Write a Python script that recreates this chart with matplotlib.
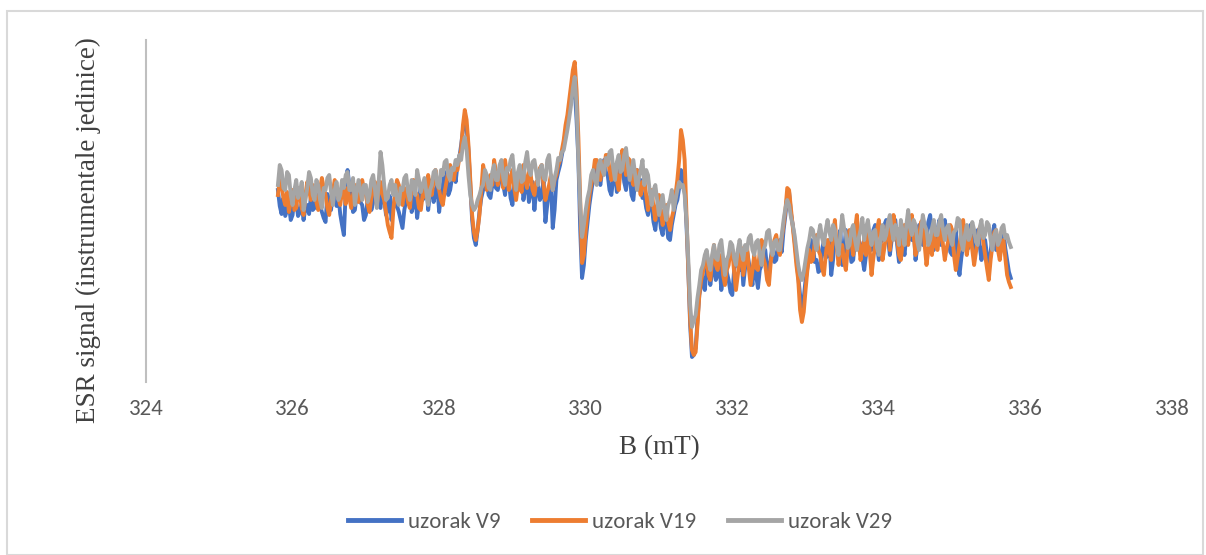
import numpy as np
import matplotlib
matplotlib.use("Agg")
import matplotlib.pyplot as plt
from matplotlib.patches import Rectangle

# ESR signal, arbitrary instrumental units (0.025 mT step)
v9 = [10, -6, -14, 2, -16, -10, -4, -20, -15, 4, -2, -16, -12, -4, -20, -8, -5, -14, 3, -10,
      -8, 4, 8, -5, -12, -18, -22, 6, -3, -10, 10, 2, -6, 5, -14, -25, -35, 8, 30, 15,
      5, -12, -10, 6, 12, -2, -5, -20, -15, 0, 8, -10, -2, 10, 15, -4, -8, 12, 2, -15,
      -10, 4, -20, -8, 5, -6, -12, -20, -28, -10, 0, 12, 10, -12, -5, 6, -18, -2, 15, 0,
      5, 18, -10, 6, 20, -2, 8, 15, -12, 5, 15, 28, 25, 5, 10, 22, 30, 18, 35, 42,
      55, 70, 82, 72, 50, 15, -20, -38, -45, -30, -12, 2, 10, 25, 18, 5, 2, 15, 25, 12,
      10, 20, 30, 15, 5, 28, 20, 2, -5, 15, 25, 10, 12, 30, 0, 12, 22, -2, 8, 18,
      -10, 10, 15, 0, 5, 20, -22, -5, 10, 18, -28, -10, 20, 28, 35, 45, 55, 68, 80, 92,
      100, 108, 112, 80, 40, -30, -78, -65, -40, -22, -5, 8, 20, 30, 35, 22, 15, 30, 40, 28,
      25, 10, 5, 22, 30, 8, 15, 35, 40, 18, 10, 30, 25, 5, 0, 20, 30, 12, 20, 2,
      5, -8, -15, 2, -5, -22, -30, -12, -10, -28, -35, -15, -20, -38, -40, -25, -15, -5, 0, 12,
      30, 25, 12, -25, -70, -125, -157, -155, -148, -120, -95, -85, -78, -90, -70, -65, -85, -72, -62, -80,
      -75, -62, -90, -78, -60, -72, -80, -92, -95, -70, -55, -65, -70, -55, -85, -68, -50, -62, -72, -85,
      -60, -75, -88, -70, -65, -48, -50, -68, -75, -58, -45, -62, -60, -45, -40, -52, -30, -15, 5, 8,
      -13, -25, -40, -58, -75, -95, -107, -98, -80, -68, -55, -40, -45, -62, -60, -72, -70, -50, -40, -58,
      -55, -40, -75, -60, -35, -48, -50, -30, -65, -52, -30, -42, -45, -62, -60, -38, -25, -40, -45, -58,
      -70, -55, -35, -48, -50, -30, -25, -45, -60, -42, -40, -25, -20, -38, -55, -40, -30, -20, -45, -62,
      -30, -42, -55, -35, -20, -32, -40, -25, -60, -48, -25, -38, -45, -30, -35, -22, -15, -35, -50, -38,
      -30, -20, -45, -32, -20, -35, -40, -52, -55, -40, -30, -60, -75, -58, -45, -30, -35, -48, -25, -40,
      -50, -38, -30, -45, -60, -48, -40, -55, -70, -52, -35, -25, -50, -40, -45, -32, -30, -48, -60, -72,
      -78]

v19 = [5, 20, 15, 2, -5, 8, -12, -2, 10, -10, -8, 12, 5, -8, -15, 5, 18, 10, 0, 15,
       12, -2, -10, 10, 22, 12, 5, -8, -15, 0, 8, 20, 15, 2, -5, 8, 10, -4, 12, 2,
       -8, 5, 15, 0, -2, 12, 20, 10, 5, -5, -12, 2, 10, 18, -5, 8, 18, 6, 0, -12,
       -25, -32, -38, -10, 8, 20, 15, 0, -5, 12, 10, -2, -8, 10, 20, 8, 5, -8, -10, 5,
       15, 2, 25, 12, 5, 20, 30, 15, 10, 0, -5, 8, 18, 28, 35, 22, 20, 32, 30, 42,
       50, 75, 90, 80, 55, 20, -15, -32, -40, -30, -15, 10, 35, 25, 10, 20, 25, 15, 40, 28,
       15, 30, 28, 12, 40, 25, 10, 22, 30, 12, 0, 15, 20, 8, 35, 20, 12, 28, 25, 10,
       5, 18, 20, 32, 35, 15, 0, 8, 15, 25, 10, 20, 25, 35, 40, 50, 60, 75, 85, 100,
       115, 130, 138, 110, 62, 0, -63, -55, -30, -12, 5, 15, 25, 40, 40, 28, 20, 38, 30, 45,
       45, 30, 20, 35, 35, 20, 10, 30, 50, 38, 25, 42, 40, 22, 15, 30, 30, 15, 5, 18,
       20, 5, -10, 2, 10, -8, -20, -5, 5, -12, -25, -10, -5, -22, -30, -18, -10, 5, 20, 40,
       70, 60, 40, -15, -70, -120, -150, -155, -152, -125, -95, -80, -72, -58, -60, -75, -80, -60, -45, -65,
       -70, -58, -55, -75, -85, -70, -65, -50, -50, -72, -90, -75, -60, -48, -75, -60, -45, -68, -85, -70,
       -55, -68, -70, -52, -40, -58, -65, -80, -85, -62, -50, -40, -35, -50, -55, -38, -25, -10, 12, 10,
       -8, -25, -45, -65, -80, -110, -122, -112, -90, -70, -50, -62, -60, -42, -35, -50, -55, -68, -75, -55,
       -40, -52, -60, -35, -20, -45, -65, -50, -45, -62, -70, -48, -30, -42, -55, -30, -15, -40, -60, -48,
       -40, -55, -25, -50, -75, -58, -45, -30, -20, -42, -60, -48, -35, -22, -50, -32, -15, -28, -40, -55,
       -60, -42, -25, -38, -45, -28, -15, -35, -55, -40, -35, -22, -20, -45, -65, -50, -40, -55, -30, -45,
       -50, -35, -25, -45, -60, -48, -40, -25, -30, -55, -70, -58, -45, -32, -20, -40, -55, -42, -35, -50,
       -65, -52, -40, -28, -25, -42, -55, -68, -80, -60, -45, -32, -30, -50, -60, -45, -40, -58, -75, -82,
       -87]

v29 = [15, 35, 30, 12, 10, 28, 25, 5, -5, 10, 20, 2, 8, 18, -10, 0, 12, 28, 22, 5,
       0, 20, 15, 0, -8, 12, 10, 22, 25, 8, -5, 10, 18, 0, 5, 20, 12, 25, 28, 10,
       10, 22, -5, 8, 20, 10, 0, 15, 15, -2, 5, 20, 25, 10, -8, 18, 48, 35, 15, 0,
       2, 15, 20, 5, 15, 0, -5, 12, 10, 22, 25, 8, 0, 20, 18, 5, 30, 20, 8, 15,
       22, 8, -5, 10, 15, 28, 30, 15, 12, 30, 25, 38, 40, 25, 20, 32, 30, 40, 35, 45,
       40, 55, 63, 50, 25, 5, -5, -10, -7, 0, 5, 12, 15, 30, 25, 12, 10, 28, 35, 20,
       20, 35, 40, 22, 15, 32, 30, 40, 45, 25, 10, 28, 35, 18, 20, 38, 48, 30, 25, 38,
       40, 28, 15, 30, 35, 22, 20, 40, 45, 25, 10, 22, 30, 42, 40, 48, 50, 60, 70, 82,
       95, 112, 123, 95, 40, -5, -37, -25, -10, 2, 10, 25, 30, 20, 15, 35, 40, 30, 25, 42,
       35, 48, 50, 32, 20, 38, 45, 28, 30, 45, 52, 35, 20, 30, 40, 25, 10, 22, 30, 40,
       15, 30, 25, 8, -5, 10, 15, 0, -15, -5, 5, -10, -20, -5, 0, 10, -10, 0, 10, 18,
       13, 15, 5, -20, -60, -105, -127, -120, -115, -98, -85, -70, -65, -55, -50, -62, -70, -55, -45, -58,
       -60, -45, -40, -58, -75, -60, -55, -42, -45, -58, -65, -50, -40, -52, -60, -45, -50, -38, -35, -50,
       -55, -42, -40, -55, -65, -50, -45, -32, -30, -45, -55, -42, -40, -50, -50, -35, -20, -8, 0, -5,
       -17, -25, -35, -50, -65, -75, -80, -72, -60, -48, -40, -28, -30, -42, -50, -35, -25, -38, -45, -30,
       -20, -32, -40, -25, -30, -45, -55, -35, -15, -28, -35, -48, -45, -30, -25, -40, -50, -38, -30, -18,
       -40, -28, -20, -35, -45, -32, -30, -48, -55, -38, -25, -40, -35, -22, -15, -30, -40, -25, -30, -45,
       -20, -32, -45, -25, -10, -28, -35, -20, -25, -42, -50, -32, -15, -25, -30, -45, -40, -28, -20, -35,
       -35, -22, -15, -30, -40, -28, -25, -38, -45, -32, -30, -18, -20, -42, -50, -35, -25, -40, -35, -22,
       -30, -42, -45, -28, -20, -38, -35, -22, -25, -40, -50, -35, -30, -45, -40, -28, -25, -38, -35, -42,
       -47]

# magnetic field scan (mT)
b_start, b_step = 325.80, 0.025
field = b_start + b_step * np.arange(len(v9))

labels = ['uzorak V9', 'uzorak V19', 'uzorak V29']
colors = ['#4472C4', '#ED7D31', '#A5A5A5']
xticks = [324, 326, 328, 330, 332, 334, 336, 338]

sans = ['Carlito', 'DejaVu Sans']
serif = ['Liberation Serif', 'DejaVu Serif']

fig = plt.figure(figsize=(12.06, 5.55), dpi=100)
ax = fig.add_axes([146 / 1206, 1 - 382 / 555, (1172 - 146) / 1206, (382 - 40) / 555])

for vals, lab, col in zip([v9, v19, v29], labels, colors):
    ax.plot(field, vals, color=col, linewidth=2.8, label=lab, solid_joinstyle='round')

ax.set_xlim(324, 338)
ax.set_ylim(-182, 160)
ax.set_xticks(xticks)
ax.set_xticklabels([str(t) for t in xticks], family=sans, fontsize=16.5, color='#595959')
ax.set_yticks([])
ax.tick_params(axis='x', length=0, pad=12)
for s in ['top', 'right', 'bottom']:
    ax.spines[s].set_visible(False)
ax.spines['left'].set_color('#BFBFBF')
ax.spines['left'].set_linewidth(1.5)

ax.set_xlabel('B (mT)', family=serif, fontsize=19.5, color='#404040', labelpad=12)
fig.text(88 / 1206, 1 - 230 / 555, 'ESR signal (instrumentale jedinice)', family=serif,
         fontsize=19.5, color='#404040', rotation=90, ha='center', va='center')

leg = fig.legend(loc='center', bbox_to_anchor=(620 / 1206, 1 - 522 / 555), ncol=3,
                 frameon=False, prop={'family': sans, 'size': 16.5},
                 handlelength=2.3, columnspacing=1.4, handletextpad=0.3)
for t in leg.get_texts():
    t.set_color('#595959')
for h in leg.get_lines():
    h.set_linewidth(3.5)

# outer chart frame
fig.patches.append(Rectangle((7 / 1206, 0), 1196 / 1206, 1 - 11 / 555, transform=fig.transFigure,
                             fill=False, edgecolor='#D9D9D9', linewidth=1.5))

fig.savefig('out.png', dpi=100)
